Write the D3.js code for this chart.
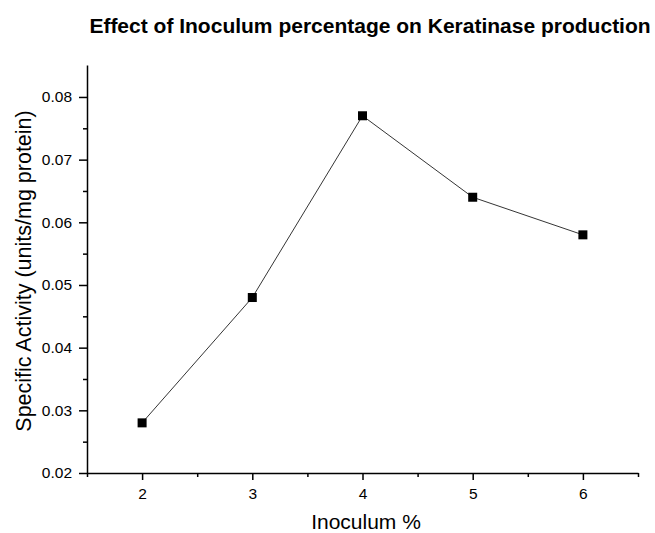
<!DOCTYPE html>
<html>
<head>
<meta charset="utf-8">
<script src="https://cdn.jsdelivr.net/npm/d3@7"></script>
<style>
  body { margin: 0; background: #fff; }
  text { font-family: "Liberation Sans", Arial, sans-serif; }
</style>
</head>
<body>
<div id="chart"></div>
<script>
// Data
const inoculum = [2, 3, 4, 5, 6];
const activity = [0.028, 0.048, 0.077, 0.064, 0.058];
const xTicks = [2, 3, 4, 5, 6];
const yTicks = [0.02, 0.03, 0.04, 0.05, 0.06, 0.07, 0.08];

const svgWidth = 655;
const svgHeight = 533;
const margin = { top: 65, right: 17, bottom: 60, left: 87 };
const width = svgWidth - margin.left - margin.right;
const height = svgHeight - margin.top - margin.bottom;

const svg = d3.select("#chart")
  .append("svg")
  .attr("width", svgWidth)
  .attr("height", svgHeight);

const g = svg.append("g")
  .attr("transform", `translate(${margin.left}, ${margin.top})`);

const x = d3.scaleLinear().domain([1.5, 6.5]).range([0, width]);
const y = d3.scaleLinear().domain([0.02, 0.0851]).range([height, 0]);

// minor ticks
const xMinor = d3.range(1.5, 6.6, 1);
const yMinor = d3.range(0.025, 0.085, 0.01);

g.append("g")
  .attr("transform", `translate(0, ${height})`)
  .call(d3.axisBottom(x).tickValues(xMinor).tickSize(4).tickFormat(""))
  .call(a => a.select(".domain").remove());
g.append("g")
  .call(d3.axisLeft(y).tickValues(yMinor).tickSize(4).tickFormat(""))
  .call(a => a.select(".domain").remove());

const xAxis = g.append("g")
  .attr("transform", `translate(0, ${height})`)
  .call(d3.axisBottom(x).tickValues(xTicks).tickSize(7).tickPadding(8).tickSizeOuter(0).tickFormat(d3.format("d")));
const yAxis = g.append("g")
  .call(d3.axisLeft(y).tickValues(yTicks).tickSize(8).tickPadding(7).tickSizeOuter(0).tickFormat(d3.format(".2f")));

[xAxis, yAxis].forEach(a => {
  a.attr("font-size", 15.5).attr("font-family", null);
  a.selectAll(".domain").attr("stroke-width", 1.5);
  a.selectAll("text").attr("fill", "#000");
});
g.selectAll(".tick line").attr("stroke-width", 1.5);

// line
const line = d3.line()
  .x((d, i) => x(inoculum[i]))
  .y(d => y(d));

g.append("path")
  .datum(activity)
  .attr("fill", "none")
  .attr("stroke", "#000")
  .attr("stroke-width", 0.8)
  .attr("d", line);

g.selectAll("rect.pt")
  .data(activity)
  .enter()
  .append("rect")
  .attr("class", "pt")
  .attr("x", (d, i) => x(inoculum[i]) - 4.5)
  .attr("y", d => y(d) - 4.5)
  .attr("width", 9)
  .attr("height", 9)
  .attr("fill", "#000");

// title and labels
svg.append("text")
  .attr("x", 370)
  .attr("y", 33)
  .attr("text-anchor", "middle")
  .style("font-size", "21px")
  .style("font-weight", "bold")
  .text("Effect of Inoculum percentage on Keratinase production");

svg.append("text")
  .attr("x", 366)
  .attr("y", 529)
  .attr("text-anchor", "middle")
  .style("font-size", "21px")
  .text("Inoculum %");

svg.append("text")
  .attr("transform", `translate(31, 271) rotate(-90)`)
  .attr("text-anchor", "middle")
  .style("font-size", "21.5px")
  .text("Specific Activity (units/mg protein)");
</script>
</body>
</html>
